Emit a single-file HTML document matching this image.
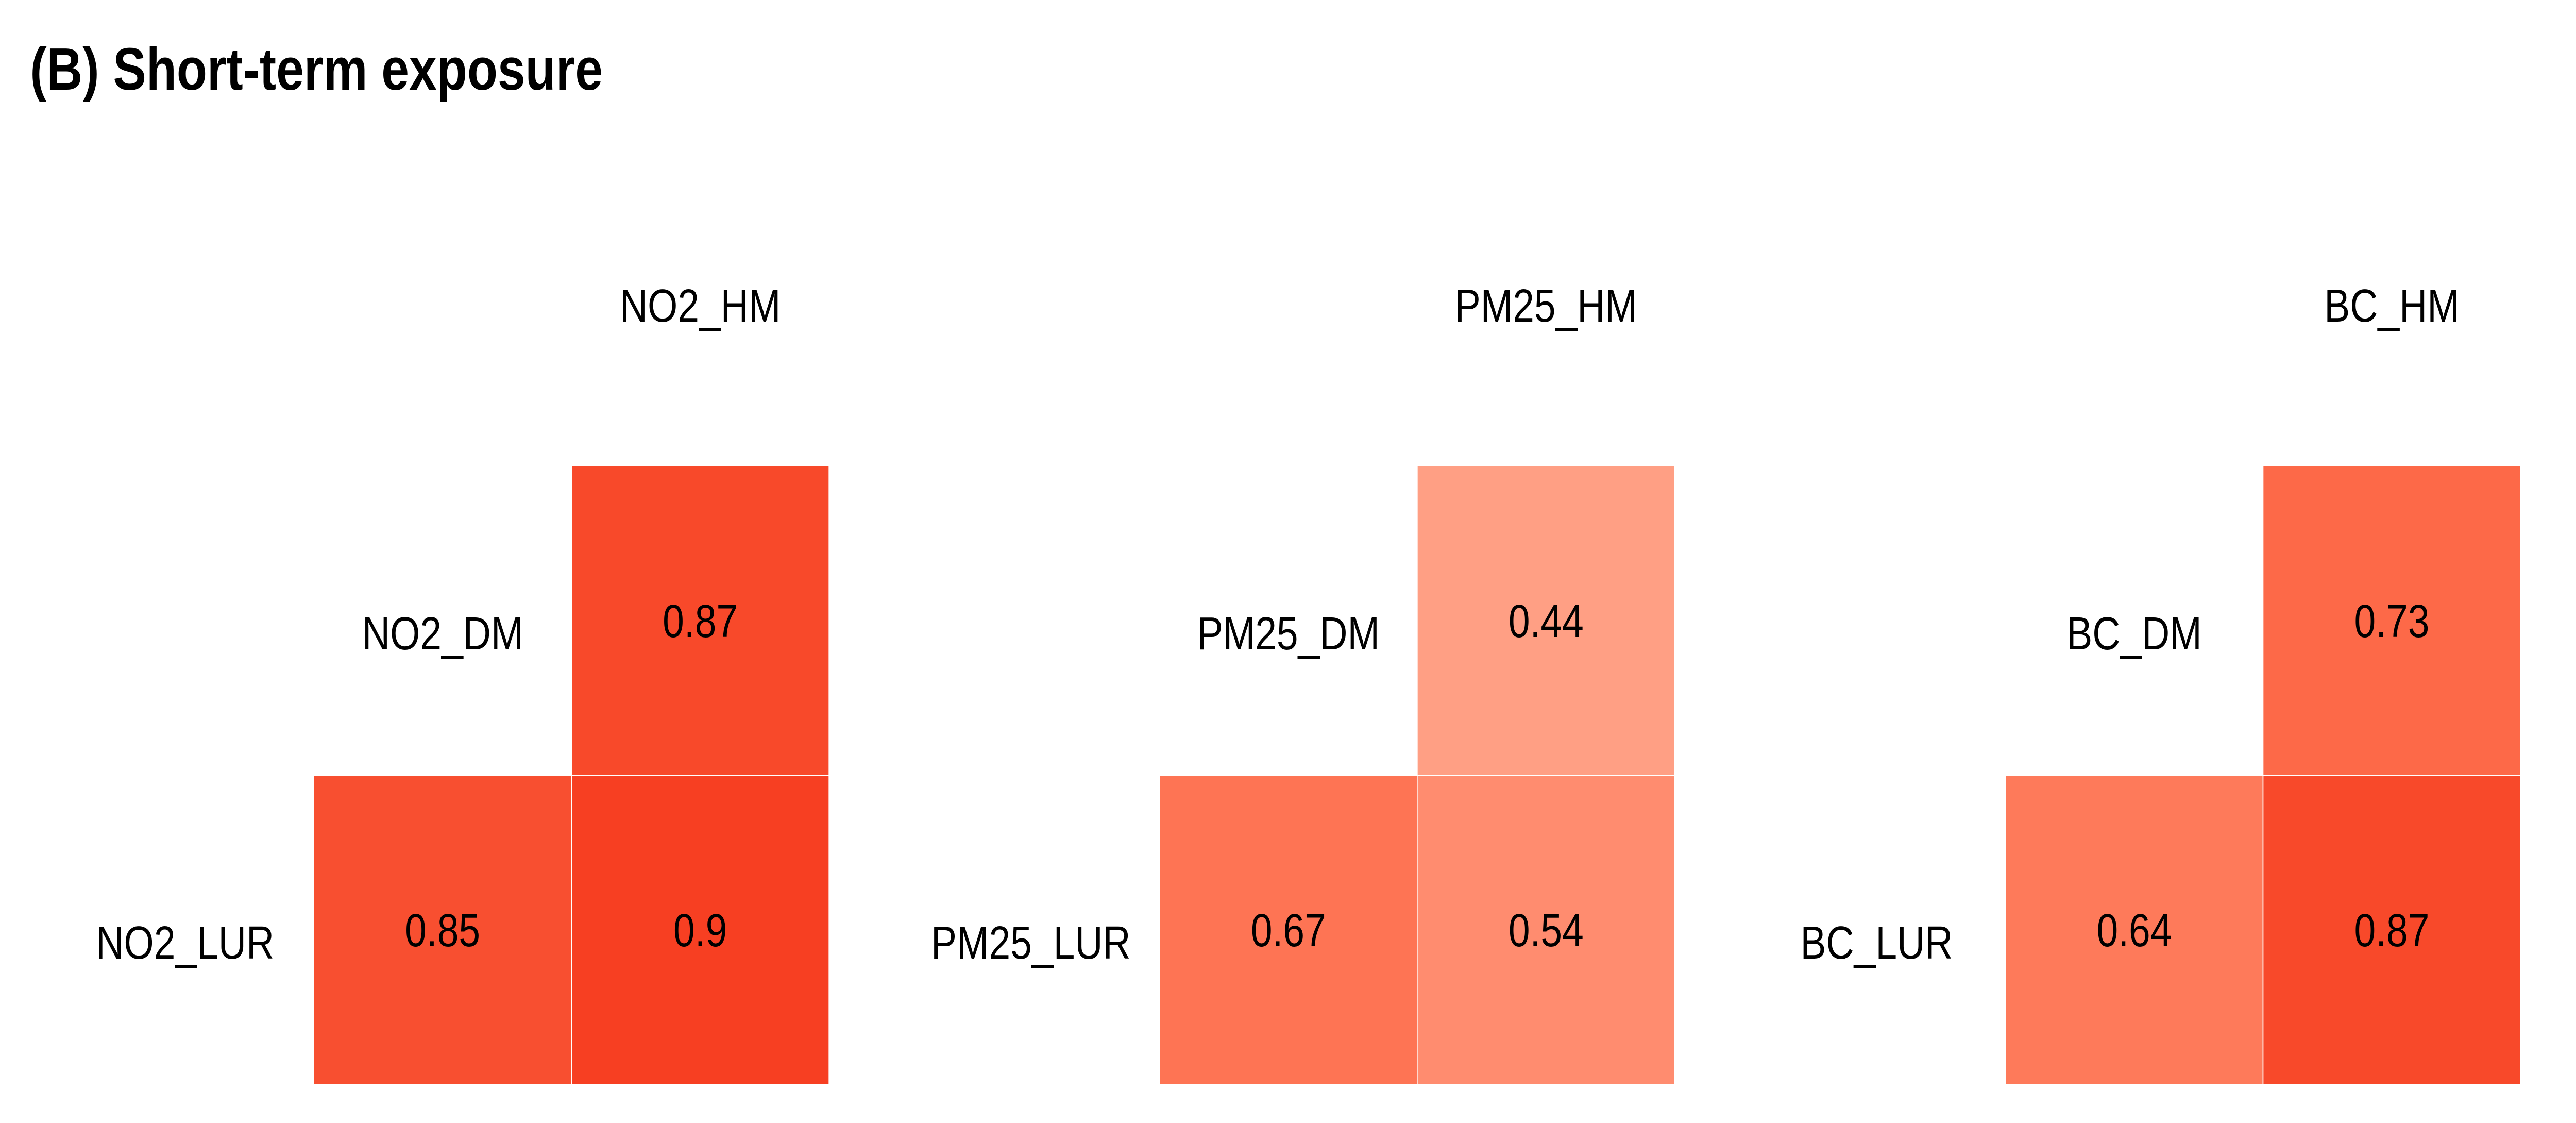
<!DOCTYPE html>
<html><head><meta charset="utf-8"><style>
html,body{margin:0;padding:0;background:#fff;overflow:hidden;width:100%;height:100%;}
svg{display:block;width:100vw;height:100vh;}
text{font-family:"Liberation Sans",Arial,sans-serif;}
</style></head><body>
<svg id="chart" viewBox="0 0 6000 2179" preserveAspectRatio="none" xmlns="http://www.w3.org/2000/svg">
<rect width="6000" height="2179" fill="#fff"/>
<text x="70" y="174" font-size="116" font-weight="bold" fill="#000">(B) Short-term exposure</text>
</svg>
<script>
const panelNames = ["NO2", "PM25", "BC"];
const rowLabels = ["DM", "LUR"];
const colLabels = ["HM"];
const valDM_HM = [0.87, 0.44, 0.73];
const valLUR_DM = [0.85, 0.67, 0.64];
const valLUR_HM = [0.9, 0.54, 0.87];

const svg = document.getElementById('chart');
const NS = 'http://www.w3.org/2000/svg';
const panelX0 = 731, panelStep = 1970, cell = 600, topY = 904;
function xPos(p, col) { return panelX0 + p * panelStep + col * cell; }
function yPos(row) { return topY + row * cell; }
const stops = [[0,[255,255,255]],[0.4,[255,166,141]],[0.55,[255,138,109]],[0.7,[254,111,78]],[0.85,[248,79,48]],[0.9,[247,63,34]],[1,[238,40,14]]];
function color(v) {
  const t = Math.max(0, Math.min(1, v));
  for (let i = 1; i < stops.length; i++) {
    if (t <= stops[i][0]) {
      const [a, ca] = stops[i-1], [b, cb] = stops[i];
      const f = (t - a) / (b - a);
      const c = ca.map((x, k) => Math.round(x + (cb[k] - x) * f));
      return `rgb(${c[0]},${c[1]},${c[2]})`;
    }
  }
  return 'rgb(238,40,14)';
}
function addText(x, y, s, name) {
  const t = document.createElementNS(NS, 'text');
  t.setAttribute('x', x); t.setAttribute('y', y);
  t.setAttribute('font-size', 90);
  t.setAttribute('text-anchor', 'middle');
  t.setAttribute('fill', '#000');
  t.textContent = s;
  
  
  svg.appendChild(t);
}
function addCell(p, col, row, v, name) {
  const r = document.createElementNS(NS, 'rect');
  r.setAttribute('x', xPos(p, col)); r.setAttribute('y', yPos(row));
  r.setAttribute('width', cell); r.setAttribute('height', cell);
  r.setAttribute('fill', color(v));
  r.setAttribute('stroke', '#fff'); r.setAttribute('stroke-width', 2);
  
  
  svg.appendChild(r);
  addText(xPos(p, col) + cell / 2, yPos(row) + cell / 2 + 32, String(v), name + '-label');
}
panelNames.forEach((pn, p) => {
  addCell(p, 1, 0, valDM_HM[p], pn.toLowerCase() + '-dm-hm-cell');
  addCell(p, 0, 1, valLUR_DM[p], pn.toLowerCase() + '-lur-dm-cell');
  addCell(p, 1, 1, valLUR_HM[p], pn.toLowerCase() + '-lur-hm-cell');
  addText(xPos(p, 1) + cell / 2, yPos(-1) + cell / 2 + 20, pn + '_' + colLabels[0], pn.toLowerCase() + '-hm-label');
  addText(xPos(p, 0) + cell / 2, yPos(0) + cell / 2 + 56, pn + '_' + rowLabels[0], pn.toLowerCase() + '-dm-label');
  addText(xPos(p, -1) + cell / 2, yPos(1) + cell / 2 + 56, pn + '_' + rowLabels[1], pn.toLowerCase() + '-lur-label');
});
</script>
</body></html>
